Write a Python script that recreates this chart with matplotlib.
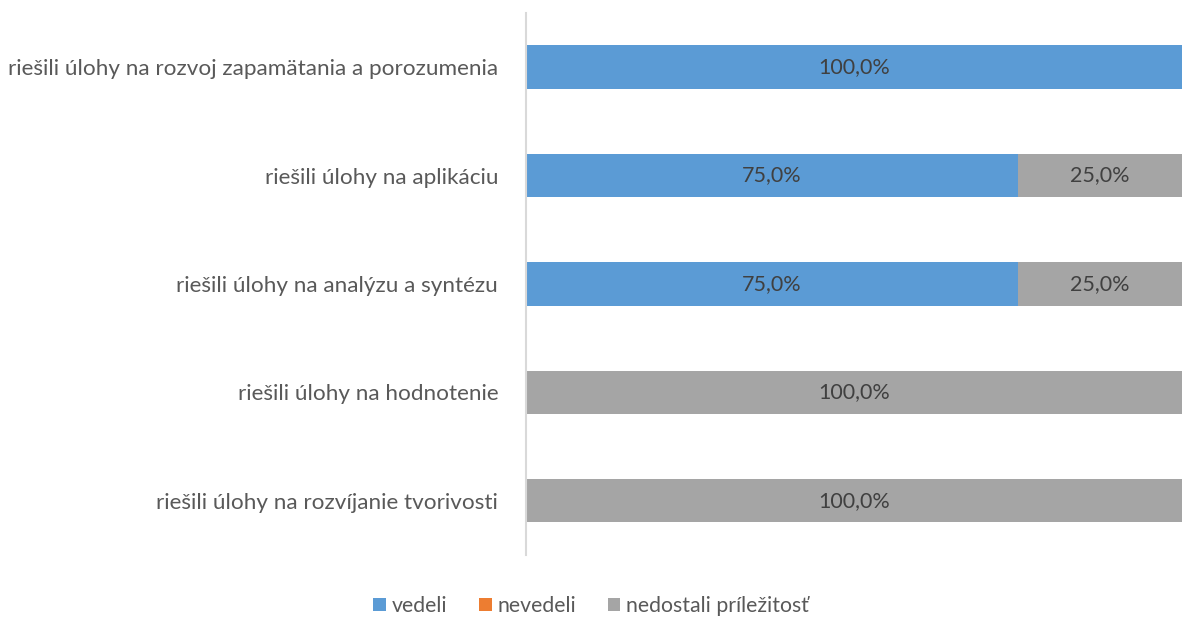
import matplotlib
matplotlib.use('Agg')
import matplotlib.pyplot as plt
import numpy as np

categories = [
    'riešili úlohy na rozvoj zapamätania a porozumenia',
    'riešili úlohy na aplikáciu',
    'riešili úlohy na analýzu a syntézu',
    'riešili úlohy na hodnotenie',
    'riešili úlohy na rozvíjanie tvorivosti',
]
vedeli = [100.0, 75.0, 75.0, 0.0, 0.0]
nevedeli = [0.0, 0.0, 0.0, 0.0, 0.0]
nedostali = [0.0, 25.0, 25.0, 100.0, 100.0]

series = [('vedeli', vedeli, '#5B9BD5'),
          ('nevedeli', nevedeli, '#ED7D31'),
          ('nedostali príležitosť', nedostali, '#A5A5A5')]

plt.rcParams['font.family'] = ['Lato', 'DejaVu Sans']

fig = plt.figure(figsize=(11.82, 6.17), dpi=100)
ax = fig.add_axes([0.445, 0.1005, 0.555, 0.8785])

y = np.arange(len(categories))
left = np.zeros(len(categories))
for name, vals, color in series:
    vals = np.array(vals)
    bars = ax.barh(y, vals, left=left, height=0.4, color=color, label=name)
    for b, v in zip(bars, vals):
        if v > 0:
            ax.text(b.get_x() + b.get_width() / 2, b.get_y() + b.get_height() / 2,
                    f'{v:.1f}%'.replace('.', ','), ha='center', va='center',
                    fontsize=15.5, color='#404040')
    left += vals

ax.set_xlim(0, 100)
ax.set_ylim(len(categories) - 0.5, -0.5)
ax.set_yticks(y)
ax.set_yticklabels(categories, fontsize=16.2, color='#595959')
ax.tick_params(axis='y', length=0, pad=20)
ax.set_xticks([])
for s in ['top', 'right', 'bottom']:
    ax.spines[s].set_visible(False)
ax.spines['left'].set_color('#D9D9D9')
ax.spines['left'].set_linewidth(1.5)

fig.legend(loc='center', bbox_to_anchor=(0.5, 0.018), ncol=3, frameon=False,
           fontsize=15.3, labelcolor='#595959', handlelength=0.6, handleheight=0.6,
           handletextpad=0.25, columnspacing=1.5)

fig.savefig('out.png', dpi=100)
